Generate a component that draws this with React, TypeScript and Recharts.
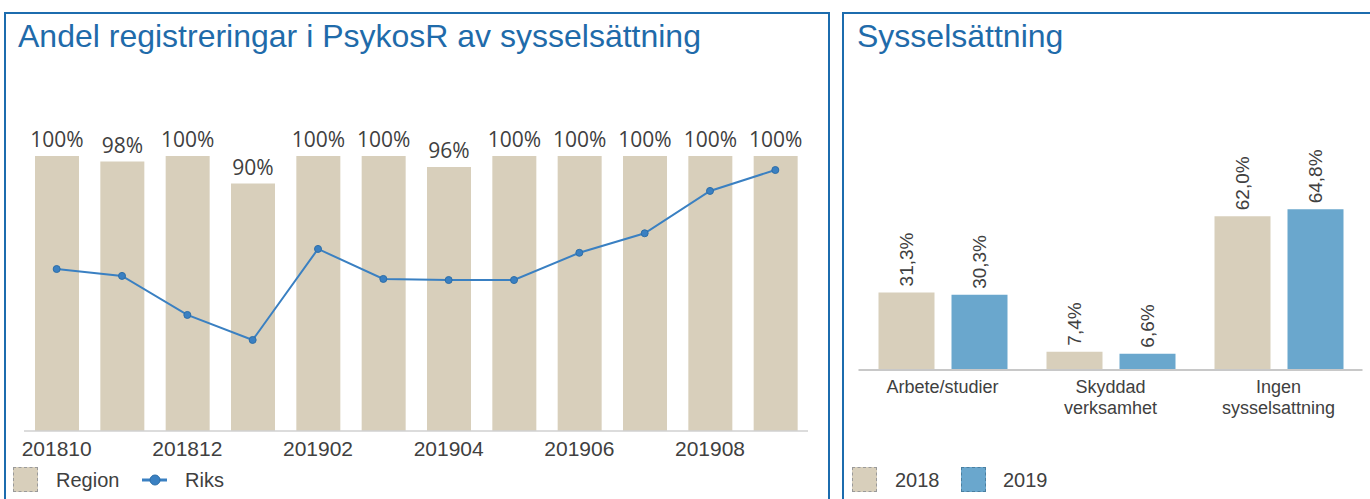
import { Bar, BarChart, ComposedChart, LabelList, Line, XAxis, YAxis } from "recharts";

const months = ["201810", "201811", "201812", "201901", "201902", "201903", "201904", "201905", "201906", "201907", "201908", "201909"];
const region = [100, 98, 100, 90, 100, 100, 96, 100, 100, 100, 100, 100];
const riks = [58.9, 56.4, 42.2, 33.1, 66.2, 55.3, 54.9, 54.9, 64.8, 71.9, 87.3, 94.9];

const categories = ["Arbete/studier", "Skyddad\nverksamhet", "Ingen\nsysselsattning"];
const y2018 = [31.3, 7.4, 62.0];
const y2019 = [30.3, 6.6, 64.8];

const BEIGE = "#d8cfbb";
const BLUE = "#6aa7cd";
const LINE = "#3a80c2";
const FRAME = "#1c6cae";
const TITLE = "#1f6baa";
const TEXT = "#404040";
const SANS = "'Liberation Sans', Arial, sans-serif";

const leftData = months.map((m, i) => ({ month: m, region: region[i], riks: riks[i] }));
const rightData = categories.map((c, i) => ({ cat: c, a: y2018[i], b: y2019[i] }));

function RotatedLabel({ x, y, width, value }: any) {
  const cx = x + width / 2;
  const cy = y - 6;
  return (
    <text x={cx} y={cy} transform={`rotate(-90 ${cx} ${cy})`} dy="0.36em" textAnchor="start" fontSize={19} fontFamily={SANS} fill={TEXT}>
      {Number(value).toFixed(1).replace(".", ",") + "%"}
    </text>
  );
}

function CatTick({ x, y, payload }: any) {
  const lines = String(payload.value).split("\n");
  return (
    <text x={x} y={y} textAnchor="middle" fontSize={18} fontFamily={SANS} fill={TEXT}>
      {lines.map((l, i) => (
        <tspan key={i} x={x} dy={i === 0 ? 15 : 21}>{l}</tspan>
      ))}
    </text>
  );
}

const legendText = { position: "absolute" as const, top: 470, fontSize: 20, lineHeight: "20px", fontFamily: SANS, color: TEXT };

export default function App() {
  return (
    <div style={{ position: "absolute", left: 0, top: 0, width: 1370, height: 499, background: "#fff", overflow: "hidden", fontFamily: SANS }}>
      {/* left panel */}
      <div style={{ position: "absolute", left: 4, top: 12, width: 826, height: 520, boxSizing: "border-box", border: `2px solid ${FRAME}` }} />
      <div style={{ position: "absolute", left: 18, top: 20, fontSize: 32, lineHeight: "32px", color: TITLE, whiteSpace: "nowrap" }}>
        Andel registreringar i PsykosR av sysselsättning
      </div>
      <div style={{ position: "absolute", left: 0, top: 0 }}>
        <ComposedChart width={830} height={499} data={leftData} margin={{ top: 156, right: 22, left: 24, bottom: 38 }}>
          <XAxis dataKey="month" interval={1} height={30} tickLine={false} tickMargin={4} axisLine={{ stroke: "#d0d0d0", strokeWidth: 1.5 }} tick={{ fontSize: 21, fontFamily: SANS, fill: TEXT }} />
          <YAxis hide domain={[0, 100]} />
          <Bar dataKey="region" fill={BEIGE} barSize={44} isAnimationActive={false}>
            <LabelList dataKey="region" position="top" offset={9} formatter={(v: any) => `${v}%`} style={{ fontSize: 21, fontFamily: "'Open Sans', sans-serif", fill: TEXT }} />
          </Bar>
          <Line dataKey="riks" stroke={LINE} strokeWidth={2} dot={{ r: 3.5, fill: LINE, stroke: "#2d6ea8", strokeWidth: 1 }} isAnimationActive={false} />
        </ComposedChart>
      </div>
      <div style={{ position: "absolute", left: 13, top: 467, width: 25, height: 25, boxSizing: "border-box", background: BEIGE, border: "1px dashed #9a9a9a" }} />
      <div style={{ ...legendText, left: 56 }}>Region</div>
      <svg style={{ position: "absolute", left: 140, top: 470 }} width={30} height={20}>
        <line x1={2} y1={10} x2={27} y2={10} stroke={LINE} strokeWidth={3} />
        <circle cx={15} cy={10} r={5} fill={LINE} stroke="#2d6ea8" />
      </svg>
      <div style={{ ...legendText, left: 185 }}>Riks</div>

      {/* right panel */}
      <div style={{ position: "absolute", left: 842, top: 12, width: 560, height: 520, boxSizing: "border-box", border: `2px solid ${FRAME}` }} />
      <div style={{ position: "absolute", left: 857, top: 20, fontSize: 32, lineHeight: "32px", color: TITLE, whiteSpace: "nowrap" }}>
        Sysselsättning
      </div>
      <div style={{ position: "absolute", left: 843, top: 0 }}>
        <BarChart width={527} height={499} data={rightData} margin={{ top: 122, right: 7.5, left: 15.5, bottom: 69 }} barGap={17}>
          <XAxis dataKey="cat" height={60} tickLine={false} interval={0} axisLine={{ stroke: "#c8c8c8", strokeWidth: 2 }} tick={<CatTick />} />
          <YAxis hide domain={[0, 100]} />
          <Bar dataKey="a" fill={BEIGE} barSize={56} isAnimationActive={false}>
            <LabelList dataKey="a" content={<RotatedLabel />} />
          </Bar>
          <Bar dataKey="b" fill={BLUE} barSize={56} isAnimationActive={false}>
            <LabelList dataKey="b" content={<RotatedLabel />} />
          </Bar>
        </BarChart>
      </div>
      <div style={{ position: "absolute", left: 852, top: 467, width: 25, height: 25, boxSizing: "border-box", background: BEIGE, border: "1px dashed #9a9a9a" }} />
      <div style={{ ...legendText, left: 895 }}>2018</div>
      <div style={{ position: "absolute", left: 961, top: 467, width: 25, height: 25, boxSizing: "border-box", background: BLUE, border: "1px dashed #4a7fa0" }} />
      <div style={{ ...legendText, left: 1003 }}>2019</div>
    </div>
  );
}
